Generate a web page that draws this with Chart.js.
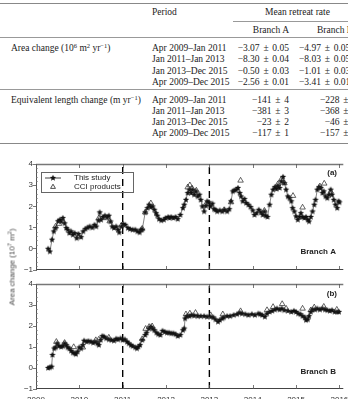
<!DOCTYPE html>
<html><head><meta charset="utf-8">
<script src="https://cdn.jsdelivr.net/npm/chart.js@4.4.1/dist/chart.umd.min.js"></script>
<style>
html,body{margin:0;padding:0;width:348px;height:399px;overflow:hidden;background:#fff;}
#wrap{position:relative;width:348px;height:399px;overflow:hidden;}
.t{position:absolute;font-family:"Liberation Serif","Times New Roman",serif;font-size:9.5px;line-height:10px;color:#222;white-space:nowrap;}
.t.v{word-spacing:1.4px;}
.t sup{font-size:6.5px;line-height:0;vertical-align:3.5px;}
.hl{position:absolute;height:0;}
canvas{position:absolute;left:0;}
#ytitle{position:absolute;left:12px;top:267px;transform:translate(-50%,-50%) rotate(-90deg);font-family:"Liberation Sans",Arial,sans-serif;font-size:8px;color:#444;white-space:nowrap;}
#ytitle sup{font-size:5.5px;line-height:0;vertical-align:3px;}
</style></head>
<body><div id="wrap">
<div id="table"></div>
<canvas id="ca" width="348" height="125" style="top:150px"></canvas>
<canvas id="cb" width="348" height="140" style="top:270px"></canvas>
<div id="ytitle">Area change (10<sup>7</sup> m<sup>2</sup>)</div>
</div>
<script>
// ---------- table text ----------
const periods = ["Apr 2009–Jan 2011","Jan 2011–Jan 2013","Jan 2013–Dec 2015","Apr 2009–Dec 2015"];
const areaRateA = ["−3.07 ± 0.05","−8.30 ± 0.04","−0.50 ± 0.03","−2.56 ± 0.01"];
const areaRateB = ["−4.97 ± 0.05","−8.03 ± 0.05","−1.01 ± 0.03","−3.41 ± 0.01"];
const lengthRateA = ["−141 ± 4","−381 ± 3","−23 ± 2","−117 ± 1"];
const lengthRateB = ["−228 ± 4","−368 ± 3","−46 ± 2","−157 ± 1"];

// ---------- chart data (decimal years, 10^7 m^2) ----------
const studyYearsA = [2009.28,2009.32,2009.37,2009.41,2009.45,2009.51,2009.55,2009.58,2009.62,2009.66,2009.70,2009.73,2009.77,2009.81,2009.85,2009.89,2009.94,2009.98,2010.04,2010.09,2010.14,2010.19,2010.24,2010.30,2010.35,2010.39,2010.44,2010.47,2010.50,2010.55,2010.59,2010.64,2010.68,2010.72,2010.76,2010.80,2010.85,2010.89,2010.92,2010.97,2011.01,2011.06,2011.12,2011.17,2011.23,2011.29,2011.34,2011.39,2011.42,2011.45,2011.52,2011.57,2011.61,2011.65,2011.69,2011.73,2011.77,2011.80,2011.84,2011.89,2011.95,2011.99,2012.05,2012.08,2012.12,2012.17,2012.22,2012.27,2012.33,2012.39,2012.42,2012.46,2012.50,2012.54,2012.58,2012.61,2012.65,2012.69,2012.73,2012.77,2012.80,2012.84,2012.88,2012.92,2012.95,2012.99,2013.03,2013.07,2013.11,2013.14,2013.18,2013.24,2013.30,2013.35,2013.41,2013.46,2013.50,2013.54,2013.58,2013.62,2013.66,2013.70,2013.73,2013.77,2013.81,2013.85,2013.90,2013.95,2014.00,2014.04,2014.09,2014.14,2014.19,2014.23,2014.27,2014.30,2014.34,2014.39,2014.43,2014.47,2014.51,2014.55,2014.58,2014.62,2014.66,2014.70,2014.73,2014.77,2014.81,2014.85,2014.89,2014.92,2014.96,2015.00,2015.04,2015.08,2015.11,2015.15,2015.19,2015.23,2015.27,2015.30,2015.34,2015.38,2015.42,2015.45,2015.49,2015.53,2015.57,2015.61,2015.64,2015.68,2015.72,2015.76,2015.80,2015.83,2015.87,2015.91,2015.95,2015.98,2016.00];
const studyValuesA = [0.00,-0.13,0.43,0.82,0.98,1.30,1.37,1.30,1.45,1.20,0.98,0.90,0.74,0.82,0.66,0.74,0.50,0.70,0.55,0.82,0.94,1.00,1.05,1.00,1.13,1.05,1.34,1.72,1.37,1.50,1.56,1.50,1.56,1.29,1.05,0.98,1.05,0.90,0.77,1.05,1.17,1.13,0.98,0.93,0.90,0.90,0.82,0.77,0.90,0.90,1.72,1.92,2.08,1.97,2.00,1.84,1.68,1.56,1.40,1.34,1.37,1.45,1.50,1.45,1.50,1.45,1.50,1.40,1.60,1.92,2.08,2.31,2.63,2.79,2.63,2.79,2.55,2.71,2.47,2.55,2.31,2.00,1.76,2.03,2.24,2.19,2.00,2.13,1.87,1.84,1.76,1.81,1.76,1.84,1.76,1.87,2.24,2.71,2.76,2.79,2.87,2.63,2.47,2.24,2.35,2.16,2.08,1.97,1.81,1.60,1.68,1.84,1.72,1.60,1.76,1.56,1.50,2.08,2.55,2.79,2.91,2.82,2.98,2.87,3.18,3.39,3.10,2.79,2.47,2.39,2.24,1.92,1.76,1.53,1.37,1.50,1.68,1.50,1.45,1.50,1.37,1.29,1.50,1.76,2.08,2.31,2.79,2.91,2.87,2.63,2.71,2.47,2.39,2.55,2.79,2.55,2.31,2.08,1.92,2.24,2.19];
const cciYearsA = [2009.45,2009.53,2009.62,2009.98,2010.45,2010.60,2010.70,2010.97,2011.45,2011.52,2011.65,2012.50,2012.55,2012.60,2012.70,2012.92,2013.34,2013.50,2013.72,2014.27,2014.58,2014.66,2014.73,2014.93,2015.15,2015.55,2015.65,2015.80];
const cciValuesA = [1.05,1.18,1.30,0.58,1.45,1.45,1.30,1.10,0.95,1.72,2.15,2.90,3.00,2.85,2.75,2.10,1.83,2.20,3.22,1.80,3.05,3.28,3.10,2.50,1.95,2.95,3.08,2.70];

const studyYearsB = [2009.28,2009.32,2009.36,2009.38,2009.42,2009.45,2009.49,2009.53,2009.58,2009.62,2009.66,2009.70,2009.73,2009.77,2009.81,2009.85,2009.89,2009.92,2009.96,2010.00,2010.04,2010.08,2010.11,2010.17,2010.21,2010.27,2010.32,2010.36,2010.42,2010.45,2010.49,2010.53,2010.57,2010.62,2010.68,2010.74,2010.80,2010.85,2010.89,2010.95,2011.00,2011.05,2011.10,2011.14,2011.19,2011.23,2011.29,2011.33,2011.36,2011.40,2011.45,2011.52,2011.55,2011.61,2011.65,2011.69,2011.73,2011.78,2011.82,2011.87,2011.92,2011.97,2012.02,2012.07,2012.12,2012.17,2012.22,2012.27,2012.33,2012.39,2012.42,2012.44,2012.48,2012.54,2012.59,2012.65,2012.73,2012.80,2012.88,2012.95,2013.03,2013.09,2013.14,2013.20,2013.24,2013.30,2013.33,2013.41,2013.48,2013.56,2013.64,2013.70,2013.75,2013.83,2013.90,2013.98,2014.05,2014.13,2014.17,2014.22,2014.28,2014.33,2014.39,2014.45,2014.51,2014.56,2014.62,2014.67,2014.73,2014.81,2014.89,2014.95,2015.00,2015.05,2015.10,2015.15,2015.20,2015.23,2015.27,2015.30,2015.34,2015.38,2015.44,2015.49,2015.55,2015.61,2015.67,2015.72,2015.78,2015.83,2015.89,2015.95,2015.99];
const studyValuesB = [0.00,0.03,0.06,0.62,0.93,0.98,1.17,1.04,1.01,1.04,1.17,1.09,0.98,0.93,0.82,0.73,0.70,0.66,0.78,0.98,0.93,1.09,1.30,1.25,1.28,1.25,1.20,1.25,1.17,1.09,1.33,1.52,1.49,1.41,1.36,1.33,1.30,1.39,1.36,1.41,1.33,1.36,1.25,1.17,1.09,1.04,0.98,0.93,1.01,1.09,1.33,1.57,1.68,1.88,1.96,1.88,1.80,1.68,1.61,1.57,1.77,1.72,1.68,1.68,1.65,1.65,1.61,1.52,1.57,1.80,1.88,2.36,2.47,2.47,2.52,2.49,2.47,2.47,2.47,2.44,2.44,2.41,2.31,2.20,2.28,2.36,2.41,2.47,2.47,2.52,2.56,2.63,2.59,2.56,2.52,2.56,2.52,2.59,2.56,2.52,2.44,2.59,2.67,2.72,2.78,2.83,2.78,2.83,2.75,2.72,2.67,2.72,2.67,2.59,2.56,2.47,2.41,2.28,2.31,2.47,2.67,2.78,2.78,2.83,2.78,2.83,2.78,2.75,2.72,2.75,2.67,2.67,2.67];
const cciYearsB = [2009.47,2009.66,2009.87,2010.08,2010.38,2010.45,2010.68,2011.45,2011.53,2011.61,2011.68,2012.46,2012.55,2012.68,2013.03,2013.31,2013.72,2014.33,2014.47,2014.68,2014.77,2015.15,2015.34,2015.42,2015.64,2015.94];
const cciValuesB = [1.25,1.20,1.00,0.98,1.33,1.36,1.45,1.38,1.87,1.96,1.99,2.56,2.60,2.63,2.52,2.56,2.71,2.76,2.91,3.05,2.83,2.83,2.75,2.89,2.92,2.78];

const eventYears = [2011, 2013];
const xTickYears = [2009,2010,2011,2012,2013,2014,2015,2016];
const yTickValues = [-1,0,1,2,3,4];
const seriesNames = ["This study","CCI products"];
const panelTags = ["(a)","(b)"];
const branchNames = ["Branch A","Branch B"];

// ---------- build table ----------
(function(){
  const T = document.getElementById('table');
  function txt(s, left, cy, opt, cls){
    const d=document.createElement('div'); d.className='t'+(cls?' '+cls:''); d.innerHTML=s;
    d.style.top=(cy-5.1)+'px';
    if(opt==='r'){ d.style.right=(348-left)+'px'; d.style.textAlign='right'; }
    else d.style.left=left+'px';
    T.appendChild(d);
  }
  function line(x0,x1,y,w,c){
    const d=document.createElement('div'); d.className='hl';
    d.style.left=x0+'px'; d.style.width=(x1-x0)+'px'; d.style.top=(y-w/2)+'px';
    d.style.borderTop=w+'px solid '+c; T.appendChild(d);
  }
  line(0,348,4,1.3,'#888');
  txt('Period',152,12);
  txt('Mean retreat rate',265,12);
  line(233,348,21,0.8,'#999');
  txt('Branch A',289,30,'r');
  txt('Branch B',317,30);
  line(0,348,37.3,0.8,'#999');
  const rowsA=[47.7,59.3,70.7,82], rowsL=[99.7,111,122.3,133.3];
  txt('Area change (10<sup>6</sup> m<sup>2</sup> yr<sup>−1</sup>)',11,47.7);
  txt('Equivalent length change (m yr<sup>−1</sup>)',11,99.7);
  periods.forEach((p,i)=>{ txt(p,152,rowsA[i]); txt(p,152,rowsL[i]); });
  areaRateA.forEach((v,i)=>txt(v,289,rowsA[i],'r','v'));
  areaRateB.forEach((v,i)=>txt(v,299,rowsA[i],null,'v'));
  lengthRateA.forEach((v,i)=>txt(v,289,rowsL[i],'r','v'));
  lengthRateB.forEach((v,i)=>txt(v,357,rowsL[i],'r','v'));
  line(0,348,89.3,0.8,'#999');
  line(0,348,143.3,1.3,'#888');
})();

// ---------- star marker ----------
function makeStar(r){
  const s=Math.ceil(r*2+1), c=document.createElement('canvas'); c.width=s; c.height=s;
  const g=c.getContext('2d'); g.fillStyle='#111'; g.beginPath();
  for(let i=0;i<10;i++){const a=-Math.PI/2+i*Math.PI/5, rr=(i%2)?r*0.45:r; g.lineTo(s/2+rr*Math.cos(a), s/2+rr*Math.sin(a));}
  g.closePath(); g.fill(); return c;
}
const star = makeStar(3.3);
const SANS = '"Liberation Sans", Arial, Helvetica, sans-serif';

const framePlugin = {
  id:'frame',
  afterDraw(chart){
    const {ctx, chartArea:a, scales:{x,y}} = chart;
    const o = chart.options.plugins.frame;
    ctx.save();
    ctx.strokeStyle='#777'; ctx.lineWidth=1.6;
    ctx.beginPath(); ctx.moveTo(a.left,a.top+0.5); ctx.lineTo(a.right,a.top+0.5); ctx.stroke();
    ctx.strokeStyle='#444'; ctx.lineWidth=1;
    ctx.beginPath(); ctx.moveTo(a.left,Math.round(a.bottom)-0.5); ctx.lineTo(a.right,Math.round(a.bottom)-0.5); ctx.stroke();
    ctx.strokeStyle='#555'; ctx.lineWidth=0.8;
    xTickYears.forEach(v=>{
      const px=Math.round(x.getPixelForValue(v))+0.5;
      ctx.beginPath(); ctx.moveTo(px,a.top); ctx.lineTo(px,a.top+4); ctx.stroke();
      ctx.beginPath(); ctx.moveTo(px,a.bottom); ctx.lineTo(px,a.bottom-4); ctx.stroke();
    });
    ctx.lineWidth=0.6; ctx.strokeStyle='#777';
    for(let k=0;k<=25;k++){
      if(k%5===0) continue;
      const v=-1+k*0.2; const py=Math.round(y.getPixelForValue(v))+0.5;
      ctx.beginPath(); ctx.moveTo(a.left,py); ctx.lineTo(a.left+2,py); ctx.stroke();
    }
    // panel tag & branch label
    ctx.fillStyle='#222'; ctx.font='bold 8px '+SANS; ctx.textBaseline='middle';
    ctx.textAlign='right';
    ctx.fillText(o.tag, 337, o.tagY);
    ctx.fillText(o.branch, 336, o.branchY);
    // legend
    if(o.legend){
      ctx.strokeStyle='#666'; ctx.lineWidth=1;
      ctx.strokeRect(41.5, 22.5, 92, 20);
      ctx.strokeStyle='#111'; ctx.lineWidth=0.8;
      ctx.beginPath(); ctx.moveTo(45,28); ctx.lineTo(61,28); ctx.stroke();
      ctx.drawImage(star, 53-star.width/2, 28-star.height/2);
      ctx.fillStyle='#fff'; ctx.strokeStyle='#222';
      Chart.helpers.drawPoint(ctx,{pointStyle:'triangle',radius:2.8,borderWidth:0.7},53,37);
      ctx.fillStyle='#222'; ctx.font='8px '+SANS; ctx.textAlign='left';
      ctx.fillText(seriesNames[0], 74, 28);
      ctx.fillText(seriesNames[1], 74, 36.5);
    }
    ctx.restore();
  }
};

function pts(xs, ys){ return xs.map((v,i)=>({x:v, y:ys[i]})); }

function makePanel(id, sx, sy, cx, cy, idx, showX){
  const datasets = [
    {label:seriesNames[1], data:pts(cx,cy), showLine:false, pointStyle:'triangle', pointRadius:3.2, pointBorderWidth:0.7,
     borderColor:'#222', backgroundColor:'rgba(0,0,0,0)', order:0},
    {label:seriesNames[0], data:pts(sx,sy), showLine:true, borderColor:'#333', borderWidth:0.6, pointStyle:star,
     pointRadius:3, backgroundColor:'#111', order:1}
  ];
  eventYears.forEach(v=>datasets.push({label:'event', data:[{x:v,y:-1},{x:v,y:4}], showLine:true, borderColor:'#000',
     borderWidth:1.4, borderDash:[7,5], pointRadius:0, order:2}));
  return new Chart(document.getElementById(id), {
    type:'scatter',
    data:{datasets},
    options:{
      responsive:false, animation:false, events:[],
      layout:{padding:{top:14, bottom: showX?1:5, left:0, right:0}},
      plugins:{legend:{display:false}, tooltip:{enabled:false},
        frame:{tag:panelTags[idx], branch:branchNames[idx], tagY:idx?24:23, branchY:idx?101.7:102, legend:idx===0}},
      scales:{
        x:{type:'linear', min:2009, max:2016.09, display:showX,
           grid:{display:false, drawTicks:false}, border:{display:false},
           ticks:{font:{family:SANS,size:8}, color:'#333', padding:6, maxRotation:0, callback:v=>String(v)},
           afterBuildTicks:s=>{s.ticks=xTickYears.map(v=>({value:v}));},
           afterFit:s=>{ s.height=showX?20:0; s.paddingLeft=0; s.paddingRight=0; }},
        y:{type:'linear', min:-1, max:4,
           grid:{display:true, drawOnChartArea:false, drawTicks:true, tickLength:3, color:'#555', lineWidth:0.8},
           border:{display:true, color:'#555', width:1},
           ticks:{font:{family:SANS,size:8}, color:'#333', padding:0, callback:v=>String(v).replace('-','−')},
           afterBuildTicks:s=>{s.ticks=yTickValues.map(v=>({value:v}));},
           afterFit:s=>{ s.width=36; s.paddingTop=0; s.paddingBottom=0; }}
      }
    },
    plugins:[framePlugin]
  });
}
makePanel('ca', studyYearsA, studyValuesA, cciYearsA, cciValuesA, 0, false);
makePanel('cb', studyYearsB, studyValuesB, cciYearsB, cciValuesB, 1, true);
</script>
</body></html>
